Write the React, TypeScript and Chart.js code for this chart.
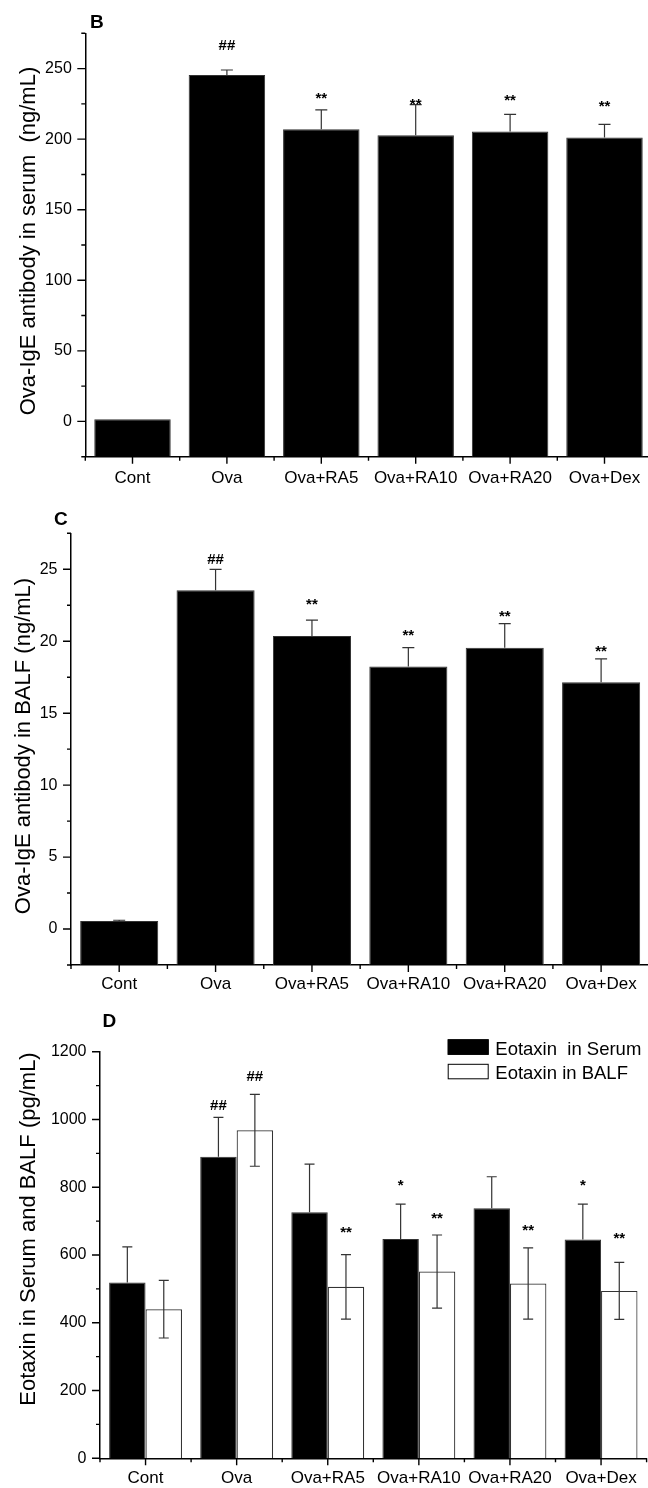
import React, { useEffect, useRef } from 'react';
import { Chart, registerables } from 'chart.js';

Chart.register(...registerables);

const FONT = "'Liberation Sans', Arial, Helvetica, sans-serif";

// ---------- data ----------
const categories = ['Cont', 'Ova', 'Ova+RA5', 'Ova+RA10', 'Ova+RA20', 'Ova+Dex'];

// Panel B: Ova-IgE in serum (ng/mL)
const serumIgE = [1.5, 245.5, 207.1, 202.8, 205.4, 201.2];
const serumIgEErr = [0, 3.5, 13.7, 21.6, 12.1, 9.2];
const serumIgESig = ['', '##', '**', '**', '**', '**'];
const serumIgESigAt = [0, 266.8, 231.7, 227.7, 230.5, 225.8];
const serumIgEMajorTicks = [0, 50, 100, 150, 200, 250];
const serumIgEMinorTicks = [-25, 25, 75, 125, 175, 225, 275];

// Panel C: Ova-IgE in BALF (ng/mL)
const balfIgE = [0.56, 23.54, 20.36, 18.25, 19.55, 17.15];
const balfIgEErr = [0.05, 1.46, 1.1, 1.3, 1.67, 1.63];
const balfIgESig = ['', '##', '**', '**', '**', '**'];
const balfIgESigAt = [0, 25.74, 22.86, 20.7, 22.03, 19.55];
const balfIgEMajorTicks = [0, 5, 10, 15, 20, 25];
const balfIgEMinorTicks = [-2.5, 2.5, 7.5, 12.5, 17.5, 22.5, 27.5];

// Panel D: Eotaxin (pg/mL)
const eotaxinSerum = [519, 890, 726, 647, 738, 646];
const eotaxinSerumErr = [105, 116, 142, 103, 93, 104];
const eotaxinSerumSig = ['', '##', '', '*', '', '*'];
const eotaxinSerumSigAt = [0, 1042.7, 0, 816.4, 0, 816.4];
const eotaxinBalf = [440, 968, 506, 551, 516, 494];
const eotaxinBalfErr = [85, 106, 95, 108, 105, 84];
const eotaxinBalfSig = ['', '##', '**', '**', '**', '**'];
const eotaxinBalfSigAt = [0, 1128, 678.8, 720, 685.6, 662];
const eotaxinMajorTicks = [0, 200, 400, 600, 800, 1000, 1200];
const eotaxinMinorTicks = [100, 300, 500, 700, 900, 1100];

// ---------- plugin: Origin-like ticks, error bars, marks, texts ----------
const originStyle = {
  id: 'originStyle',
  afterDraw(chart: any, _args: any, o: any) {
    const ctx = chart.ctx;
    const xs = chart.scales.x;
    const ys = chart.scales.y;
    const a = chart.chartArea;
    ctx.save();

    // ticks
    ctx.strokeStyle = '#000';
    ctx.lineWidth = 1.4;
    ctx.beginPath();
    ys.ticks.forEach((t: any) => {
      const py = ys.getPixelForValue(t.value);
      ctx.moveTo(a.left - 8, py);
      ctx.lineTo(a.left, py);
    });
    (o.yMinor || []).forEach((v: number) => {
      const py = ys.getPixelForValue(v);
      ctx.moveTo(a.left - 4, py);
      ctx.lineTo(a.left, py);
    });
    const n = chart.data.labels.length;
    for (let i = 0; i < n; i++) {
      const px = xs.getPixelForValue(i);
      ctx.moveTo(px, a.bottom);
      ctx.lineTo(px, a.bottom + 7);
    }
    for (let i = 0; i <= n; i++) {
      const px = xs.getPixelForValue(i - 0.5);
      ctx.moveTo(px, a.bottom);
      ctx.lineTo(px, a.bottom + 4);
    }
    ctx.stroke();

    // error bars and significance marks
    chart.data.datasets.forEach((ds: any, di: number) => {
      const meta = chart.getDatasetMeta(di);
      meta.data.forEach((bar: any, i: number) => {
        const v = ds.data[i];
        const e = ds.err ? ds.err[i] : 0;
        const cx = bar.x;
        if (e > 0) {
          const base = ys.getPixelForValue(v);
          const up = ys.getPixelForValue(v + e);
          const dn = ds.errDown ? ys.getPixelForValue(v - e) : base;
          ctx.strokeStyle = '#333';
          ctx.lineWidth = 1.2;
          ctx.beginPath();
          ctx.moveTo(cx, dn);
          ctx.lineTo(cx, up);
          ctx.moveTo(cx - o.cap / 2, up);
          ctx.lineTo(cx + o.cap / 2, up);
          if (ds.errDown) {
            ctx.moveTo(cx - o.cap / 2, dn);
            ctx.lineTo(cx + o.cap / 2, dn);
          }
          ctx.stroke();
        }
        const s = ds.sig ? ds.sig[i] : '';
        if (s) {
          const py = ys.getPixelForValue(ds.sigAt[i]);
          ctx.fillStyle = '#000';
          ctx.font = `bold ${o.sigSize}px ${FONT}`;
          ctx.textAlign = 'center';
          ctx.textBaseline = 'alphabetic';
          const k = s[0] === '#' ? 0.35 : 0.58;
          ctx.fillText(s, cx, py + k * o.sigSize);
        }
      });
    });

    // panel letter
    ctx.fillStyle = '#000';
    ctx.font = `bold ${o.letter.size}px ${FONT}`;
    ctx.textAlign = 'left';
    ctx.textBaseline = 'alphabetic';
    ctx.fillText(o.letter.text, o.letter.x, o.letter.y);

    // y axis title
    ctx.save();
    ctx.translate(o.title.x, o.title.y);
    ctx.rotate(-Math.PI / 2);
    ctx.font = `${o.title.size}px ${FONT}`;
    ctx.textAlign = 'center';
    ctx.textBaseline = 'alphabetic';
    ctx.fillText(o.title.text, 0, 0);
    ctx.restore();

    // legend
    if (o.legend) {
      const L = o.legend;
      chart.data.datasets.forEach((ds: any, di: number) => {
        const by = L.y + di * L.gap;
        ctx.fillStyle = ds.backgroundColor;
        ctx.fillRect(L.x, by, L.w, L.h);
        ctx.strokeStyle = '#000';
        ctx.lineWidth = 1;
        ctx.strokeRect(L.x + 0.5, by + 0.5, L.w - 1, L.h - 1);
        ctx.fillStyle = '#000';
        ctx.font = `${L.size}px ${FONT}`;
        ctx.textAlign = 'left';
        ctx.textBaseline = 'alphabetic';
        ctx.fillText(ds.label, L.textX, by + L.h);
      });
    }
    ctx.restore();
  },
};

// ---------- config builder ----------
function makeConfig(p: any) {
  return {
    type: 'bar',
    data: { labels: categories, datasets: p.datasets },
    options: {
      animation: false,
      responsive: false,
      devicePixelRatio: 1,
      layout: { padding: { left: 0, top: p.top, right: p.right, bottom: 0 } },
      plugins: {
        legend: { display: false },
        tooltip: { enabled: false },
        originStyle: p.style,
      },
      scales: {
        x: {
          type: 'category',
          offset: true,
          grid: { display: false, drawTicks: false },
          border: { display: true, color: '#000', width: 1.5 },
          ticks: {
            color: '#000',
            font: { family: FONT, size: 17 },
            padding: p.xPad,
            maxRotation: 0,
            minRotation: 0,
            autoSkip: false,
          },
          afterFit: (s: any) => {
            s.height = p.xH;
          },
        },
        y: {
          type: 'linear',
          min: p.min,
          max: p.max,
          grid: { display: false, drawTicks: false },
          border: { display: true, color: '#000', width: 1.5 },
          ticks: {
            color: '#000',
            font: { family: FONT, size: 16 },
            padding: 13.5,
            callback: (v: any) => String(v),
          },
          afterBuildTicks: (s: any) => {
            s.ticks = p.major.map((v: number) => ({ value: v }));
          },
          afterFit: (s: any) => {
            s.width = p.yW;
          },
        },
      },
    },
    plugins: [originStyle],
  };
}

const CW = 660;

const panelB = () =>
  makeConfig({
    top: 33.3,
    right: CW - 651.7,
    yW: 85.3,
    xH: 495 - 456.7,
    xPad: 11,
    min: -25,
    max: 275,
    major: serumIgEMajorTicks,
    datasets: [
      {
        label: 'Ova-IgE in serum',
        data: serumIgE,
        err: serumIgEErr,
        sig: serumIgESig,
        sigAt: serumIgESigAt,
        base: -25,
        backgroundColor: '#000',
        borderColor: '#333',
        borderWidth: 1,
        barPercentage: 1,
        categoryPercentage: 0.81,
      },
    ],
    style: {
      yMinor: serumIgEMinorTicks,
      cap: 12,
      sigSize: 15,
      letter: { text: 'B', x: 90, y: 28.3, size: 19 },
      title: { text: 'Ova-IgE antibody in serum  (ng/mL)', x: 35, y: 241, size: 22 },
    },
  });

const panelC = () =>
  makeConfig({
    top: 38.3,
    right: CW - 649.3,
    yW: 71,
    xH: 30,
    xPad: 9.5,
    min: -2.5,
    max: 27.5,
    major: balfIgEMajorTicks,
    datasets: [
      {
        label: 'Ova-IgE in BALF',
        data: balfIgE,
        err: balfIgEErr,
        sig: balfIgESig,
        sigAt: balfIgESigAt,
        base: -2.5,
        backgroundColor: '#000',
        borderColor: '#333',
        borderWidth: 1,
        barPercentage: 1,
        categoryPercentage: 0.81,
      },
    ],
    style: {
      yMinor: balfIgEMinorTicks,
      cap: 12,
      sigSize: 15,
      letter: { text: 'C', x: 54, y: 30, size: 19 },
      title: { text: 'Ova-IgE antibody in BALF (ng/mL)', x: 29.5, y: 251, size: 22 },
    },
  });

const panelD = () =>
  makeConfig({
    top: 56.7,
    right: CW - 646.6,
    yW: 100,
    xH: 29.7,
    xPad: 10,
    min: 0,
    max: 1200,
    major: eotaxinMajorTicks,
    datasets: [
      {
        label: 'Eotaxin  in Serum',
        data: eotaxinSerum,
        err: eotaxinSerumErr,
        sig: eotaxinSerumSig,
        sigAt: eotaxinSerumSigAt,
        errDown: false,
        backgroundColor: '#000',
        borderColor: '#333',
        borderWidth: 1,
        barPercentage: 1,
        categoryPercentage: 0.8,
      },
      {
        label: 'Eotaxin in BALF',
        data: eotaxinBalf,
        err: eotaxinBalfErr,
        sig: eotaxinBalfSig,
        sigAt: eotaxinBalfSigAt,
        errDown: true,
        backgroundColor: '#fff',
        borderColor: '#333',
        borderWidth: 1.2,
        barPercentage: 1,
        categoryPercentage: 0.8,
      },
    ],
    style: {
      yMinor: eotaxinMinorTicks,
      cap: 10,
      sigSize: 15,
      letter: { text: 'D', x: 102.5, y: 31.7, size: 19 },
      title: { text: 'Eotaxin in Serum and BALF (pg/mL)', x: 35.3, y: 234, size: 22 },
      legend: { x: 447.7, y: 44.3, w: 41, h: 15.5, gap: 24.5, textX: 495.3, size: 18.5 },
    },
  });

function Panel({ make, top, height }: { make: () => any; top: number; height: number }) {
  const ref = useRef<HTMLCanvasElement>(null);
  useEffect(() => {
    const chart = new Chart(ref.current as HTMLCanvasElement, make() as any);
    return () => chart.destroy();
  }, []);
  return (
    <canvas
      ref={ref}
      width={CW}
      height={height}
      style={{ position: 'absolute', left: 0, top, width: CW, height, display: 'block' }}
    />
  );
}

export default function App() {
  return (
    <div
      style={{
        position: 'absolute',
        left: 0,
        top: 0,
        width: 648,
        height: 1488,
        overflow: 'hidden',
        background: '#fff',
      }}
    >
      <Panel make={panelB} top={0} height={495} />
      <Panel make={panelC} top={495} height={500} />
      <Panel make={panelD} top={995} height={493} />
    </div>
  );
}
